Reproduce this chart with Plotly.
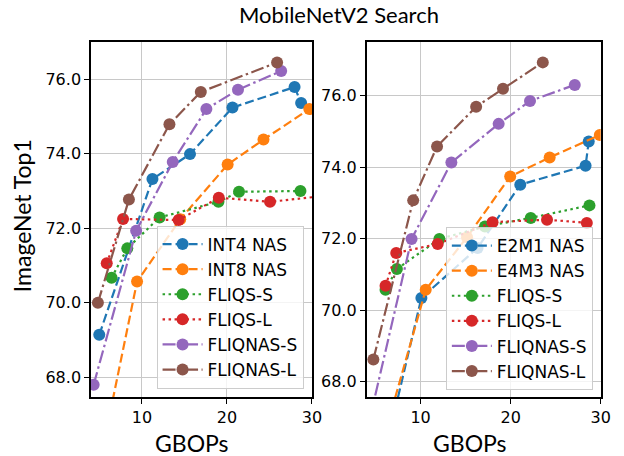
import plotly.graph_objects as go

# ---- data: MobileNetV2 search, accuracy vs. GBOPs ----
left_names = ["INT4 NAS", "INT8 NAS", "FLIQS-S", "FLIQS-L", "FLIQNAS-S", "FLIQNAS-L"]
right_names = ["E2M1 NAS", "E4M3 NAS", "FLIQS-S", "FLIQS-L", "FLIQNAS-S", "FLIQNAS-L"]

int4_x = [4.97, 11.23, 15.65, 20.65, 27.96, 28.73]
int4_y = [69.14, 73.32, 73.99, 75.24, 75.79, 75.36]
int8_x = [5.3, 9.42, 14.5, 20.08, 24.3, 29.69]
int8_y = [66.0, 70.57, 72.24, 73.71, 74.38, 75.2]
fliqs_s_left_x = [6.42, 8.27, 12.07, 19.0, 21.42, 28.65]
fliqs_s_left_y = [70.67, 71.46, 72.29, 72.71, 72.98, 73.0]
fliqs_l_left_x = [5.85, 7.77, 14.31, 19.04, 25.07, 31.5]
fliqs_l_left_y = [71.06, 72.25, 72.22, 72.82, 72.71, 72.87]
fliqnas_s_left_x = [4.31, 9.31, 13.62, 17.58, 21.3, 26.38]
fliqnas_s_left_y = [67.80, 71.93, 73.78, 75.20, 75.72, 76.22]
fliqnas_l_left_x = [4.81, 8.46, 13.23, 16.92, 25.9]
fliqnas_l_left_y = [70.0, 72.77, 74.79, 75.66, 76.45]

e2m1_x = [6.5, 10.09, 16.33, 21.07, 28.32, 28.67]
e2m1_y = [66.5, 70.34, 71.74, 73.51, 74.04, 74.72]
e4m3_x = [6.0, 10.57, 15.16, 19.95, 24.33, 29.9]
e4m3_y = [66.5, 70.57, 72.04, 73.74, 74.27, 74.90]
fliqs_s_right_x = [6.11, 7.37, 12.09, 17.15, 22.23, 28.75]
fliqs_s_right_y = [70.57, 71.15, 71.99, 72.34, 72.58, 72.93]
fliqs_l_right_x = [6.11, 7.3, 11.9, 17.99, 24.04, 28.46]
fliqs_l_right_y = [70.68, 71.6, 71.85, 72.46, 72.53, 72.44]
fliqnas_s_right_x = [4.4, 9.0, 13.42, 18.67, 22.15, 27.12]
fliqnas_s_right_y = [67.0, 71.99, 74.13, 75.21, 75.85, 76.30]
fliqnas_l_right_x = [4.76, 9.18, 11.83, 16.17, 19.15, 23.57]
fliqnas_l_right_y = [68.62, 73.07, 74.58, 75.69, 76.19, 76.93]

x_ticks = [10, 20, 30]
y_ticks = [68, 70, 72, 74, 76]

W, H = 624, 456
colors = ["#1f77b4", "#ff7f0e", "#2ca02c", "#d62728", "#9467bd", "#8c564b"]
dashes = ["9px,4px", "9px,4px", "2.5px,3.5px", "2.5px,3.5px",
          "13px,3.5px,2.5px,3.5px", "13px,3.5px,2.5px,3.5px"]

left_series = [(int4_x, int4_y), (int8_x, int8_y), (fliqs_s_left_x, fliqs_s_left_y),
               (fliqs_l_left_x, fliqs_l_left_y), (fliqnas_s_left_x, fliqnas_s_left_y),
               (fliqnas_l_left_x, fliqnas_l_left_y)]
right_series = [(e2m1_x, e2m1_y), (e4m3_x, e4m3_y), (fliqs_s_right_x, fliqs_s_right_y),
                (fliqs_l_right_x, fliqs_l_right_y), (fliqnas_s_right_x, fliqnas_s_right_y),
                (fliqnas_l_right_x, fliqnas_l_right_y)]

fig = go.Figure()

def add_panel(series, names, xa, ya, legend):
    for i, ((xs, ys), name) in enumerate(zip(series, names)):
        fig.add_trace(go.Scatter(
            x=xs, y=ys, name=name, mode="lines+markers",
            xaxis=xa, yaxis=ya, legend=legend,
            line=dict(color=colors[i], width=2.2, dash=dashes[i]),
            marker=dict(color=colors[i], size=12, line=dict(width=0)),
        ))

add_panel(left_series, left_names, "x", "y", "legend")
add_panel(right_series, right_names, "x2", "y2", "legend2")

def px_x(p):
    return p / W

def px_y(p):
    return 1 - p / H

tick_font = dict(family="DejaVu Sans", size=16, color="black")
axis_common = dict(
    showline=True, mirror=True, linecolor="black", linewidth=1.5,
    showgrid=True, gridcolor="#c8c8c8", gridwidth=1.3,
    ticks="outside", ticklen=5, tickwidth=1.3, tickcolor="black",
    tickfont=tick_font, zeroline=False,
)

legend_common = dict(
    xanchor="right", yanchor="bottom",
    bgcolor="rgba(255,255,255,0.8)", bordercolor="#cccccc", borderwidth=1,
    font=dict(family="DejaVu Sans", size=17, color="black"), itemwidth=40,
)

fig.update_layout(
    width=W, height=H,
    margin=dict(l=0, r=0, t=0, b=0),
    paper_bgcolor="white", plot_bgcolor="white",
    xaxis=dict(domain=[px_x(92.5), px_x(317)], range=[4, 30], tickvals=x_ticks,
               anchor="y", **axis_common),
    yaxis=dict(domain=[px_y(397), px_y(42)], range=[67.47, 77.0], tickvals=y_ticks,
               tickformat=".1f", anchor="x", **axis_common),
    xaxis2=dict(domain=[px_x(372.5), px_x(610.5)], range=[4, 30], tickvals=x_ticks,
                anchor="y2", **axis_common),
    yaxis2=dict(domain=[px_y(397), px_y(42)], range=[67.57, 77.5], tickvals=y_ticks,
                tickformat=".1f", anchor="x2", **axis_common),
    legend=dict(x=px_x(308.5), y=px_y(388.5), **legend_common),
    legend2=dict(x=px_x(602.5), y=px_y(390), **legend_common),
    showlegend=True,
)

label_font = "Lato"
label_size = 23
# title sits flush with the top edge of the page
fig.add_annotation(text="MobileNetV2 Search", x=px_x(345), y=1.0,
                   xref="paper", yref="paper", showarrow=False,
                   xanchor="center", yanchor="top", borderpad=0,
                   font=dict(family=label_font, size=22, color="black"))
fig.add_annotation(text="ImageNet Top1", x=px_x(22), y=px_y(215.5),
                   xref="paper", yref="paper", showarrow=False, textangle=-90,
                   xanchor="center", yanchor="middle",
                   font=dict(family=label_font, size=label_size, color="black"))
for cx in (195, 477.5):
    fig.add_annotation(text="GBOPs", x=px_x(cx), y=px_y(443),
                       xref="paper", yref="paper", showarrow=False,
                       xanchor="center", yanchor="middle",
                       font=dict(family=label_font, size=label_size, color="black"))

fig.write_html("out.html")
